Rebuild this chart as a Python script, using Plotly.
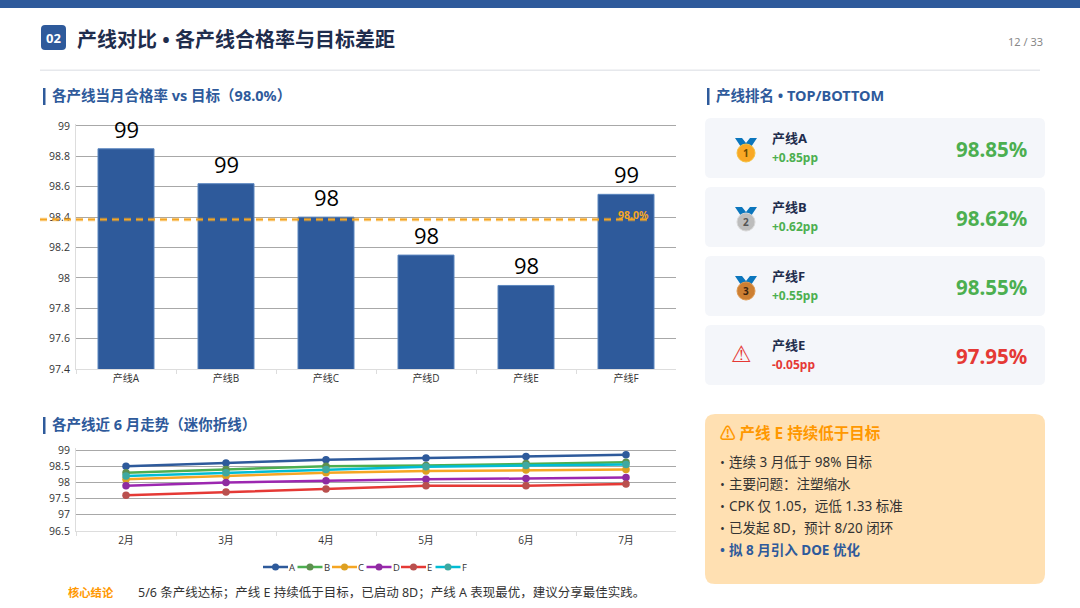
import plotly.graph_objects as go

# datos
lineas = ["产线A", "产线B", "产线C", "产线D", "产线E", "产线F"]
hegelv = [98.85, 98.62, 98.40, 98.15, 97.95, 98.55]
linea_objetivo = 98.385

meses = ["2月", "3月", "4月", "5月", "6月", "7月"]
serie_a = [98.5, 98.6, 98.7, 98.75, 98.8, 98.85]
serie_b = [98.3, 98.4, 98.5, 98.52, 98.58, 98.62]
serie_c = [98.1, 98.2, 98.3, 98.35, 98.38, 98.4]
serie_d = [97.9, 98.0, 98.05, 98.1, 98.12, 98.15]
serie_e = [97.6, 97.7, 97.8, 97.9, 97.9, 97.95]
serie_f = [98.2, 98.3, 98.4, 98.48, 98.52, 98.55]

ranking_nombres = ["产线A", "产线B", "产线F", "产线E"]
ranking_delta = ["+0.85pp", "+0.62pp", "+0.55pp", "-0.05pp"]
ranking_valor = ["98.85%", "98.62%", "98.55%", "97.95%"]

viñetas = ["连续 3 月低于 98% 目标", "主要问题：注塑缩水", "CPK 仅 1.05，远低 1.33 标准", "已发起 8D，预计 8/20 闭环"]

AZUL = "#2E5A9B"
VERDE = "#4CAF50"
ROJO = "#E53935"
NARANJA = "#FF9800"
OSCURO = "#1F2D4D"
FUENTE = "Noto Sans, Noto Sans CJK SC, sans-serif"
W, H = 1080, 608


def px(x):
    return x / W


def py(y):
    return 1 - y / H


shapes = []
annotations = []


def texto(x, y, s, size, color, bold=False, anchor="left", fuente=FUENTE):
    if bold:
        s = "<b>" + s + "</b>"
    annotations.append(dict(x=px(x), y=py(y - 1), xref="paper", yref="paper", text=s, showarrow=False,
                            xanchor=anchor, yanchor="middle", align=anchor, borderpad=0, borderwidth=0,
                            font=dict(size=size, color=color, family=fuente)))


def rect(x0, y0, x1, y1, fill):
    shapes.append(dict(type="rect", xref="paper", yref="paper", x0=px(x0), x1=px(x1), y0=py(y0), y1=py(y1),
                       fillcolor=fill, line=dict(width=0), layer="below"))


def redondo(x0, y0, x1, y1, r, fill):
    a, b, c, d = px(x0), px(x1), py(y0), py(y1)
    rx, ry = r / W, r / H
    path = (f"M {a + rx} {c} L {b - rx} {c} Q {b} {c} {b} {c - ry} L {b} {d + ry} Q {b} {d} {b - rx} {d} "
            f"L {a + rx} {d} Q {a} {d} {a} {d + ry} L {a} {c - ry} Q {a} {c} {a + rx} {c} Z")
    shapes.append(dict(type="path", xref="paper", yref="paper", path=path, fillcolor=fill,
                       line=dict(width=0), layer="below"))


def medalla(cx, cy, relleno, borde, num, color_num):
    # cinta
    p = [(cx - 11, cy - 12), (cx - 4, cy - 12), (cx, cy - 7), (cx + 4, cy - 12), (cx + 11, cy - 12), (cx + 5, cy - 3), (cx, cy - 5), (cx - 5, cy - 3)]
    path = "M " + " L ".join(f"{px(a)} {py(b)}" for a, b in p) + " Z"
    shapes.append(dict(type="path", xref="paper", yref="paper", path=path, fillcolor="#0B76BD", line=dict(width=0)))
    shapes.append(dict(type="circle", xref="paper", yref="paper", x0=px(cx - 9), x1=px(cx + 9), y0=py(cy - 6), y1=py(cy + 12),
                       fillcolor=relleno, line=dict(color=borde, width=1)))
    texto(cx, cy + 4, num, 10, color_num, bold=True, anchor="center")


# cabecera
rect(0, 0, W, 8, AZUL)
redondo(41, 25, 66, 50, 4, AZUL)
texto(53.5, 39, "02", 13, "white", bold=True, anchor="center")
texto(77, 41, "产线对比 • 各产线合格率与目标差距", 20, OSCURO, bold=True)
texto(1043, 42, "12 / 33", 11, "#888888", anchor="right")
rect(40, 69.5, 1040, 71, "#E6E8EC")

# titulos de seccion
for x_barra, y_t, titulo in [(44, 96, "各产线当月合格率 vs 目标（98.0%）"),
                             (44, 425, "各产线近 6 月走势（迷你折线）"),
                             (708, 96, "产线排名 • TOP/BOTTOM")]:
    rect(x_barra - 1, y_t - 8, x_barra + 1.5, y_t + 9, AZUL)
    texto(x_barra + 8, y_t, titulo, 14.5, AZUL, bold=True)

# tarjetas del ranking
for i in range(4):
    y0 = 118 + i * 69
    color = ROJO if i == 3 else VERDE
    redondo(705, y0, 1045, y0 + 60, 6, "#F4F6FA")
    texto(772, y0 + 21, ranking_nombres[i], 13, OSCURO, bold=True)
    texto(772, y0 + 40, ranking_delta[i], 12, color, bold=True)
    texto(1027, y0 + 32, ranking_valor[i], 20.5, color, bold=True, anchor="right")
medalla(746, 150, "#F9A825", "#F5C242", "1", "#6B4A00")
medalla(746, 219, "#BDBDBD", "#D8D8D8", "2", "#555555")
medalla(746, 288, "#CD7F32", "#E09A50", "3", "#3A2410")
texto(741, 355, "⚠", 23, ROJO, anchor="center", fuente="DejaVu Sans")

# aviso
redondo(705, 414, 1045, 584, 10, "#FFE0B2")
texto(720, 434, "⚠ 产线 E 持续低于目标", 15.5, NARANJA, bold=True)
for i, v in enumerate(viñetas):
    texto(720, 463 + i * 22, "•", 13, "#333333", fuente="Open Sans")
    texto(729, 463 + i * 22, v, 13.5, "#333333")
texto(720, 551, "•", 13, AZUL, bold=True, fuente="Open Sans")
texto(729, 551, "拟 8 月引入 DOE 优化", 13.5, AZUL, bold=True)

# conclusion
texto(68, 593, "核心结论", 11.3, NARANJA, bold=True)
texto(138, 593, "5/6 条产线达标；产线 E 持续低于目标，已启动 8D；产线 A 表现最优，建议分享最佳实践。", 12.5, "#333333")

fig = go.Figure()
fig.add_trace(go.Bar(x=lineas, y=hegelv, marker=dict(color=AZUL, line=dict(color="#5B86BF", width=1)), width=0.56,
                     showlegend=False, xaxis="x", yaxis="y"))

# etiquetas de las barras, textposition outside queda demasiado pegado
for nombre, valor in zip(lineas, hegelv):
    annotations.append(dict(x=nombre, y=valor, xref="x", yref="y", text=f"{valor:.0f}", showarrow=False, yshift=20,
                            yanchor="middle", font=dict(size=22, color="#000000", family="Open Sans")))

series = [("A", serie_a, "#2E5A9B", "#2E5A9B"), ("B", serie_b, "#4CAF50", "#5E8F4E"),
          ("C", serie_c, "#F5A623", "#DDA021"), ("D", serie_d, "#9C27B0", "#8E2CA0"),
          ("E", serie_e, "#E53935", "#B9504E"), ("F", serie_f, "#00BCD4", "#3FA8A0")]
for i, (nombre, valores, color, color_m) in enumerate(series):
    fig.add_trace(go.Scatter(x=meses, y=valores, name=nombre, mode="lines+markers", xaxis="x2", yaxis="y2",
                             line=dict(color=color, width=2.5), marker=dict(color=color_m, size=7.5),
                             showlegend=False))
    # leyenda compacta, la de plotly no deja acortar la muestra
    x_ley = 263 + i * 34.5
    shapes.append(dict(type="line", xref="paper", yref="paper", x0=px(x_ley), x1=px(x_ley + 25), y0=py(567), y1=py(567),
                       line=dict(color=color, width=2.5)))
    shapes.append(dict(type="circle", xref="paper", yref="paper", x0=px(x_ley + 9), x1=px(x_ley + 16),
                       y0=py(563.5), y1=py(570.5), fillcolor=color_m, line=dict(width=0)))
    texto(x_ley + 26, 568, nombre, 9.5, "#333333", fuente="Open Sans")

# linea objetivo
for ancho, tono in [(4, "rgba(245,166,35,0.3)"), (2, "#F5A623")]:
    shapes.append(dict(type="line", xref="paper", yref="y", x0=px(40), x1=px(650), y0=linea_objetivo, y1=linea_objetivo,
                       line=dict(color=tono, width=ancho, dash="7px,5px")))
texto(633, 216, "98.0%", 10.5, "#F5A623", bold=True, anchor="center")

rejilla = "#A8A8A8"
eje = "#DDDDDD"
# rango 2 px por encima del ultimo tick: plotly quita la rejilla justo en el borde
fig.update_layout(
    width=W, height=H, margin=dict(l=0, r=0, t=0, b=0, autoexpand=False), paper_bgcolor="white", plot_bgcolor="white",
    font=dict(family="Open Sans, Noto Sans CJK SC, sans-serif", color="#333333", size=10.5),
    shapes=shapes, annotations=annotations, bargap=0.44, showlegend=False,
    xaxis=dict(domain=[px(76), px(676)], anchor="y", tickson="boundaries", ticks="outside", ticklen=4, tickcolor=eje,
               showline=True, linecolor=eje, showgrid=False, tickfont=dict(size=10), range=[-0.5, 5.5]),
    yaxis=dict(domain=[py(369), py(124)], range=[97.4, 99.013], tick0=97.4, dtick=0.2, tickformat="~r", showline=True,
               linecolor=eje, gridcolor=rejilla, gridwidth=1.4, ticks="", zeroline=False, tickfont=dict(size=10.5),
               ticklabelstandoff=3),
    xaxis2=dict(domain=[px(76), px(676)], anchor="y2", tickson="boundaries", ticks="outside", ticklen=4, tickcolor=eje,
                showline=True, linecolor=eje, showgrid=False, tickfont=dict(size=10), range=[-0.5, 5.5]),
    yaxis2=dict(domain=[py(531), py(448)], range=[96.5, 99.062], tick0=96.5, dtick=0.5, tickformat="~r", showline=True,
                linecolor=eje, gridcolor=rejilla, gridwidth=1.4, zeroline=False, tickfont=dict(size=10.5),
                ticklabelstandoff=3),
)

fig.write_html("out.html", config=dict(displayModeBar=False), post_script="document.body.style.margin='0';")
